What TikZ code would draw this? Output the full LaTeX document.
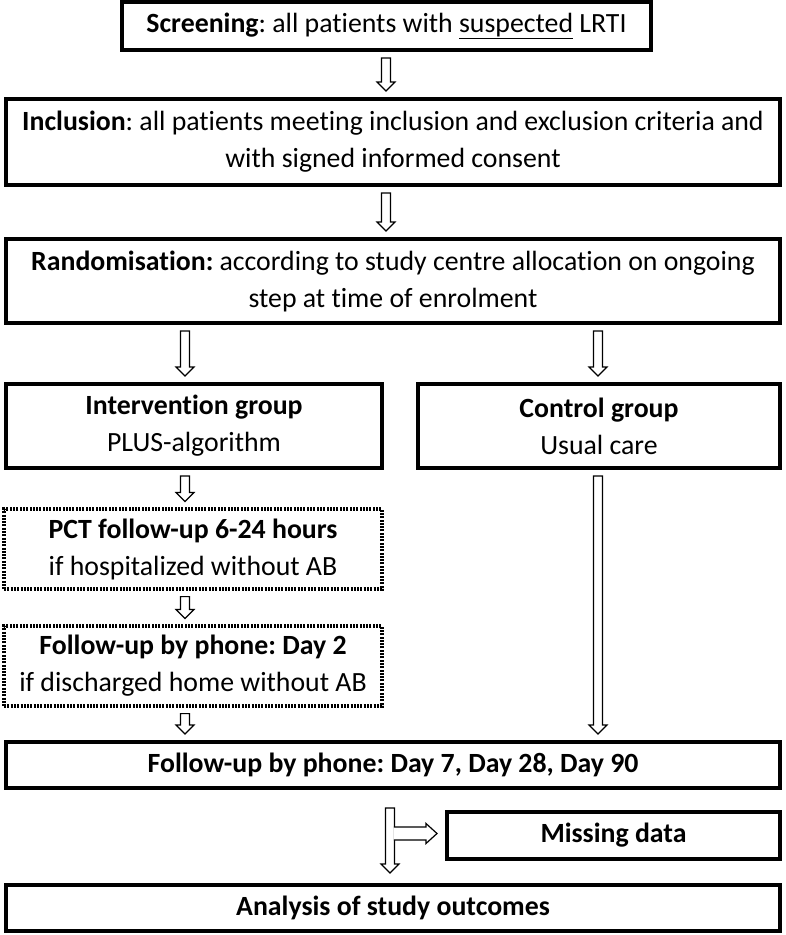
\documentclass[tikz,border=0pt]{standalone}
\usepackage{fontspec}
\setmainfont{Carlito}[Ligatures=NoCommon]
\usetikzlibrary{calc}
\frenchspacing

\begin{document}
\begin{tikzpicture}
[x=1pt, y=-1pt,
  boxDecorate/.style={draw, line width=4pt, align=center, inner sep=0pt,
    font=\fontsize{27.8}{37}\selectfont},
  dotDecorate/.style={boxDecorate, line width=3.2pt, dash pattern=on 2pt off 1.3pt},
  downArrow/.style={draw, fill=white, line width=1.2pt, line join=miter,
    to path={let \p1=(\tikztostart), \p2=(\tikztotarget) in
      (\x1-4.5pt,\y1) -- (\x1+4.5pt,\y1) -- (\x1+4.5pt,\y2+9pt) -- (\x1+9pt,\y2+9pt)
      -- (\x1,\y2) -- (\x1-9pt,\y2+9pt) -- (\x1-4.5pt,\y2+9pt) -- cycle}},
  rightArrow/.style={draw, fill=white, line width=1.2pt, line join=miter,
    to path={let \p1=(\tikztostart), \p2=(\tikztotarget) in
      (\x1,\y1+6.5pt) -- (\x2-11pt,\y1+6.5pt) -- (\x2-11pt,\y1+10pt) -- (\x2,\y1)
      -- (\x2-11pt,\y1-10pt) -- (\x2-11pt,\y1-6.5pt) -- (\x1,\y1-6.5pt)}}]
\useasboundingbox (0,0) rectangle (786,935);
%% boxes
\node (screen) at (386.5,26) [boxDecorate, minimum width=529pt, minimum height=48pt]
  {\textbf{Screening}: all patients with \underline{suspected} LRTI};
\node (incl) at (393,142) [boxDecorate, minimum width=774pt, minimum height=86pt]
  {\textbf{Inclusion}: all patients meeting inclusion and exclusion criteria and\\
   with signed informed consent};
\node (rand) at (393,281) [boxDecorate, minimum width=774pt, minimum height=84pt]
  {\textbf{Randomisation:} according to study centre allocation on ongoing\\
   step at time of enrolment};
\node (interv) at (194,426) [boxDecorate, minimum width=376pt, minimum height=84pt]
  {\textbf{Intervention group}\\PLUS-algorithm};
\node (ctrl) at (599,426) [boxDecorate, minimum width=362pt, minimum height=84pt]
  {\textbf{Control group}\\Usual care};
\node (pct) at (193,549) [dotDecorate, minimum width=378pt, minimum height=80pt]
  {\textbf{PCT follow-up 6-24 hours}\\if hospitalized without AB};
\node (fu2) at (193,666) [dotDecorate, minimum width=378pt, minimum height=80pt]
  {\textbf{Follow-up by phone: Day 2}\\if discharged home without AB};
\node (fu) at (393,765) [boxDecorate, minimum width=774pt, minimum height=46pt]
  {\textbf{Follow-up by phone: Day 7, Day 28, Day 90}};
\node (missing) at (613.5,835.5) [boxDecorate, minimum width=333pt, minimum height=47pt]
  {\textbf{Missing data}};
\node (analysis) at (393,908) [boxDecorate, minimum width=774pt, minimum height=46pt]
  {\textbf{Analysis of study outcomes}};
%% lanes for the arrows
\coordinate (midLane) at (386,0);
\coordinate (leftLane) at (185,0);
\coordinate (rightLane) at (598,0);
\coordinate (lowLane) at (390,0);
%% arrows
\path
\foreach \startnode/\endnode/\lane in {
  screen/incl/midLane, incl/rand/midLane, rand/interv/leftLane,
  rand/ctrl/rightLane, interv/pct/leftLane, pct/fu2/leftLane,
  fu2/fu/leftLane, ctrl/fu/rightLane}
{
  ($(\startnode.south -| \lane)+(0,6)$) edge[downArrow] ($(\endnode.north -| \lane)+(0,-6)$)
};
\draw[downArrow] ($(fu.south -| lowLane)+(0,18)$) to ($(analysis.north -| lowLane)+(0,-10)$);
\coordinate (branch) at ($(lowLane |- missing)+(3.8,-2)$);
\draw[rightArrow] (branch) to ($(missing.west)+(-8,-2)$);
\end{tikzpicture}
\end{document}
